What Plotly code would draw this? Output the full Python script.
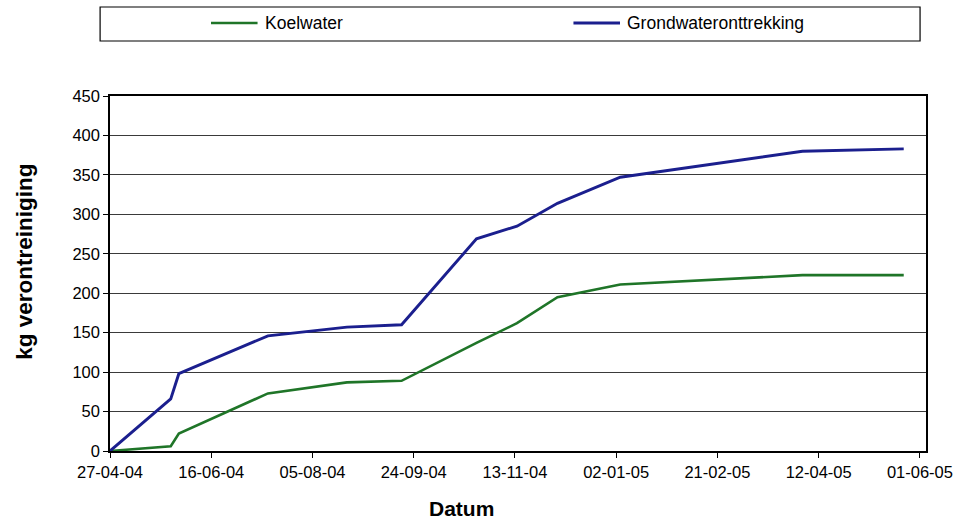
import plotly.graph_objects as go

# Measurement dates and cumulative contamination (kg)
dates = ["2004-04-27", "2004-05-27", "2004-05-31", "2004-07-14", "2004-08-22",
         "2004-09-18", "2004-10-25", "2004-11-14", "2004-12-04", "2005-01-04",
         "2005-04-04", "2005-05-24"]
koelwater = [0, 6, 22, 73, 87, 89, 137, 162, 195, 211, 223, 223]
grondwater = [0, 66, 98, 146, 157, 160, 269, 285, 314, 347, 380, 383]

tick_dates = ["2004-04-27", "2004-06-16", "2004-08-05", "2004-09-24", "2004-11-13",
              "2005-01-02", "2005-02-21", "2005-04-12", "2005-06-01"]
tick_labels = ["27-04-04", "16-06-04", "05-08-04", "24-09-04", "13-11-04",
               "02-01-05", "21-02-05", "12-04-05", "01-06-05"]

W, H = 965, 525
L, R, T, B = 110, 31, 96, 74
FONT = "Liberation Sans, Arial, sans-serif"
GREEN = "#1f7528"
BLUE = "#1b1f8e"


def px(x):
    return (x - L) / (W - L - R)


def py(y):
    return (H - B - y) / (H - T - B)


fig = go.Figure()
fig.add_trace(go.Scatter(x=dates, y=koelwater, mode="lines", name="Koelwater",
                         line=dict(color=GREEN, width=2.6), showlegend=False))
fig.add_trace(go.Scatter(x=dates, y=grondwater, mode="lines", name="Grondwateronttrekking",
                         line=dict(color=BLUE, width=2.9), showlegend=False))

shapes = [
    # legend frame
    dict(type="rect", xref="paper", yref="paper", x0=px(100), x1=px(928), y0=py(41), y1=py(7),
         line=dict(color="black", width=1.2), fillcolor="white", layer="above"),
    dict(type="line", xref="paper", yref="paper", x0=px(212), x1=px(259), y0=py(23), y1=py(23),
         line=dict(color=GREEN, width=2.6)),
    dict(type="line", xref="paper", yref="paper", x0=px(578), x1=px(625), y0=py(23), y1=py(23),
         line=dict(color=BLUE, width=2.9)),
]

annotations = [
    dict(text="Koelwater", xref="paper", yref="paper", x=px(265), y=py(23), xanchor="left",
         yanchor="middle", showarrow=False, font=dict(family=FONT, size=17.5, color="black")),
    dict(text="Grondwateronttrekking", xref="paper", yref="paper", x=px(630), y=py(23),
         xanchor="left", yanchor="middle", showarrow=False,
         font=dict(family=FONT, size=17.5, color="black")),
    dict(text="<b>kg verontreiniging</b>", xref="paper", yref="paper", x=px(23), y=py(262),
         xanchor="center", yanchor="middle", textangle=-90, showarrow=False,
         font=dict(family=FONT, size=22.5, color="black")),
    dict(text="<b>Datum</b>", xref="paper", yref="paper", x=px(465), y=py(508),
         xanchor="center", yanchor="middle", showarrow=False,
         font=dict(family=FONT, size=21, color="black")),
]

fig.update_layout(
    width=W, height=H,
    margin=dict(l=L, r=R, t=T, b=B, pad=0),
    paper_bgcolor="white", plot_bgcolor="white",
    font=dict(family=FONT, size=16.5, color="black"),
    shapes=shapes, annotations=annotations,
    xaxis=dict(type="date", range=["2004-04-27", "2005-06-04"],
               tickmode="array", tickvals=tick_dates, ticktext=tick_labels,
               ticks="outside", ticklen=5, tickcolor="black", tickwidth=1,
               showline=True, linecolor="black", linewidth=1.5, mirror=True,
               showgrid=False, zeroline=False,
               tickfont=dict(family=FONT, size=16.5, color="black")),
    yaxis=dict(range=[0, 450], dtick=50, tick0=0,
               ticks="outside", ticklen=5, tickcolor="black", tickwidth=1,
               showline=True, linecolor="black", linewidth=1.5, mirror=True,
               showgrid=True, gridcolor="#3a3a3a", gridwidth=1, zeroline=False,
               tickfont=dict(family=FONT, size=16.5, color="black")),
)

fig.write_html("out.html")
